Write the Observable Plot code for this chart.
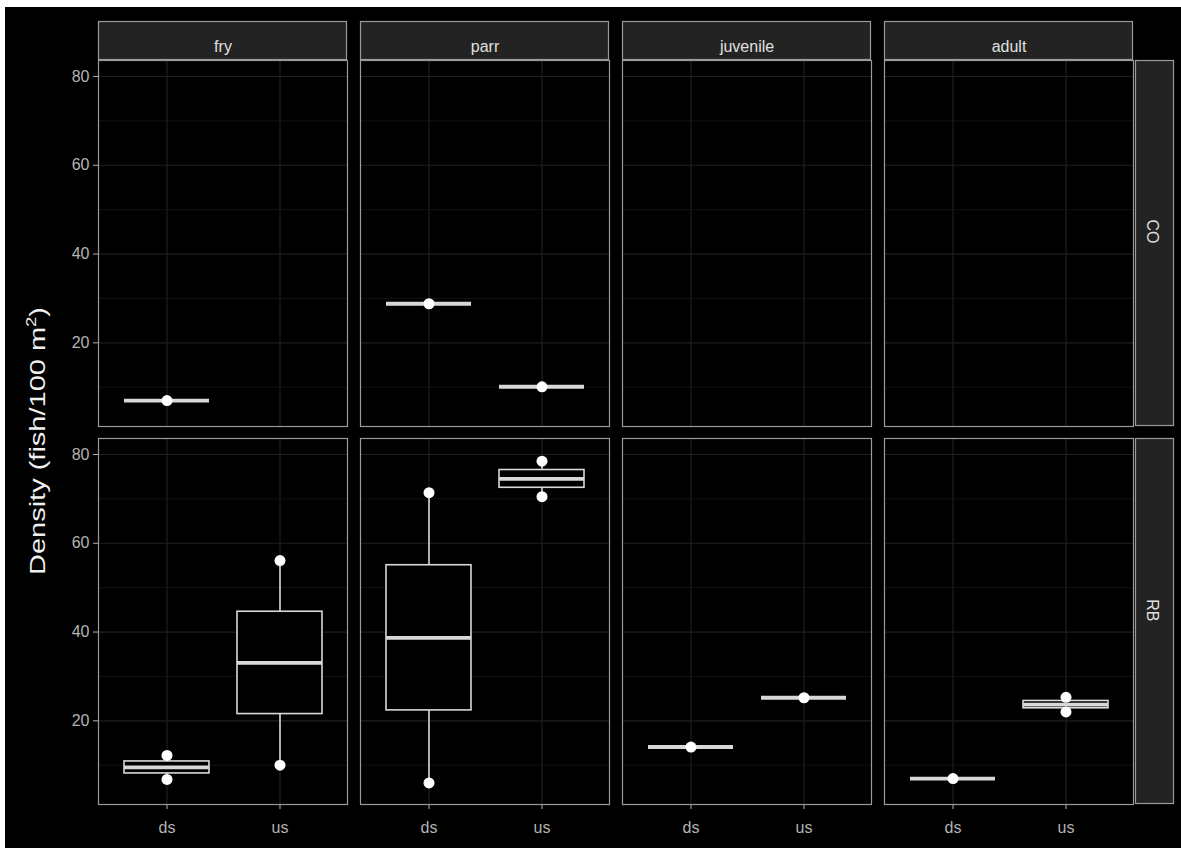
<!DOCTYPE html>
<html><head><meta charset="utf-8">
<script src="https://cdn.jsdelivr.net/npm/d3@7"></script>
<script src="https://cdn.jsdelivr.net/npm/@observablehq/plot@0.6"></script>
<style>
html,body{margin:0;padding:0;background:#fff;}
#wrap{position:absolute;left:5px;top:7px;width:1176px;height:841px;background:#000;overflow:hidden;}
</style></head><body><div id="wrap"></div>
<script>
// ---- data ----
const stages = ["fry", "parr", "juvenile", "adult"];
const speciesList = ["CO", "RB"];
const sites = ["ds", "us"];
const groupSpecies = ["CO", "CO", "CO", "RB", "RB", "RB", "RB", "RB", "RB", "RB", "RB"];
const groupStage   = ["fry", "parr", "parr", "fry", "fry", "parr", "parr", "juvenile", "juvenile", "adult", "adult"];
const groupSite    = ["ds", "ds", "us", "ds", "us", "ds", "us", "ds", "us", "ds", "us"];
const groupValues  = [[7.0], [28.8], [10.1], [6.8, 12.2], [10.0, 56.1], [6.0, 71.4], [70.5, 78.5], [14.1], [25.2], [7.0], [22.0, 25.3]];
const yMajor = [20, 40, 60, 80];
const yMinor = [10, 30, 50, 70];
const yDomain = [1.15, 83.6];
const yTitle = "Density (fish/100 m";
const yTitleSup = "2";

// ---- build tables ----
const obs = [];
groupValues.forEach((vals, i) => vals.forEach(v => obs.push({species: groupSpecies[i], stage: groupStage[i], site: groupSite[i], value: v})));
const panels = [];
speciesList.forEach(s => stages.forEach(st => panels.push({species: s, stage: st})));
// boxplot statistics (R type-7 quantiles, whiskers to the most extreme point within 1.5 IQR)
const stats = groupValues.map((vals, i) => {
  const s = vals.slice().sort(d3.ascending);
  const q1 = d3.quantile(s, 0.25), q3 = d3.quantile(s, 0.75), med = d3.quantile(s, 0.5);
  const iqr = q3 - q1;
  return {species: groupSpecies[i], stage: groupStage[i], site: groupSite[i], q1, q3, med,
    lo: d3.min(s.filter(v => v >= q1 - 1.5 * iqr)), hi: d3.max(s.filter(v => v <= q3 + 1.5 * iqr))};
});

const W = 1176, H = 841, ML = 92, MR = 46, MT = 53, MB = 44;
const boxColor = "#d8d8d8";
const borderColor = "#9a9a9a";
const facet = {fx: "stage", fy: "species"};

const plot = Plot.plot({
  width: W, height: H,
  marginLeft: ML, marginRight: MR, marginTop: MT, marginBottom: MB,
  style: {background: "#000", color: "#b3b3b3", fontSize: "16px", fontFamily: "'Liberation Sans', Arial, sans-serif"},
  fx: {domain: stages, axis: null, paddingInner: 13 / 262.75, paddingOuter: 0, label: null},
  fy: {domain: speciesList, axis: null, paddingInner: 12 / 378, paddingOuter: 0, label: null},
  x: {domain: sites, paddingInner: 0.25, paddingOuter: 0.225, tickSize: 5, tickPadding: 12, label: null},
  y: {domain: yDomain, ticks: yMajor, tickSize: 5, tickPadding: 4, label: null},
  marks: [
    Plot.text(panels, {...facet, text: () => ""}),
    Plot.ruleY(yMinor, {stroke: "#121212", strokeWidth: 1}),
    Plot.ruleY(yMajor, {stroke: "#1f1f1f", strokeWidth: 1.2}),
    Plot.ruleX(sites, {stroke: "#1f1f1f", strokeWidth: 1.2}),
    Plot.ruleX(stats, {...facet, x: "site", y1: "lo", y2: "hi", stroke: boxColor, strokeWidth: 1.6}),
    Plot.barY(stats, {...facet, x: "site", y1: "q1", y2: "q3", fill: "#000", stroke: boxColor, strokeWidth: 1.6}),
    Plot.tickY(stats, {...facet, x: "site", y: "med", stroke: boxColor, strokeWidth: 3.8}),
    Plot.dot(obs, {...facet, x: "site", y: "value", r: 5.5, fill: "#ffffff", stroke: null}),
    Plot.frame({stroke: borderColor, strokeWidth: 1.2}),
    Plot.text(panels.filter(d => d.species === speciesList[0]), {...facet, text: "stage", frameAnchor: "top", dy: -19.5, fill: "#e0e0e0", fontSize: 16}),
    Plot.text(panels.filter(d => d.stage === stages[stages.length - 1]), {...facet, text: "species", frameAnchor: "right", dx: 19, rotate: 90, fill: "#e0e0e0", fontSize: 16})
  ]
});

document.getElementById("wrap").appendChild(plot);

// ---- strips, positioned with the facet scales ----
let fxS, fyS;
try { fxS = plot.scale("fx"); fyS = plot.scale("fy"); } catch (e) {}
const fxBand = d3.scaleBand(stages, [ML, W - MR]).paddingInner(13 / 262.75).paddingOuter(0);
const fyBand = d3.scaleBand(speciesList, [MT, H - MB]).paddingInner(12 / 378).paddingOuter(0);
const fxPos = k => fxS && fxS.apply ? fxS.apply(k) : fxBand(k);
const fyPos = k => fyS && fyS.apply ? fyS.apply(k) : fyBand(k);
const fxBw = fxS && fxS.bandwidth ? fxS.bandwidth : fxBand.bandwidth();
const fyBw = fyS && fyS.bandwidth ? fyS.bandwidth : fyBand.bandwidth();

const svg = d3.select(plot);
const g = svg.insert("g", ":first-child").attr("class", "strips");
stages.forEach(k => g.append("rect").attr("x", fxPos(k) + 0.5).attr("y", MT - 38.5).attr("width", fxBw - 1).attr("height", 38)
  .attr("fill", "#232323").attr("stroke", borderColor).attr("stroke-width", 1.2));
speciesList.forEach(k => g.append("rect").attr("x", W - MR + 0.5).attr("y", fyPos(k) + 0.5).attr("width", 38).attr("height", fyBw - 1)
  .attr("fill", "#232323").attr("stroke", borderColor).attr("stroke-width", 1.2));

// y axis title
const t = svg.append("text").attr("transform", `translate(40,${(MT + H - MB) / 2 + 9}) rotate(-90)`)
  .attr("text-anchor", "middle").attr("fill", "#f0f0f0").attr("font-size", 22)
  .attr("textLength", 268).attr("lengthAdjust", "spacingAndGlyphs")
  .attr("font-family", "'Liberation Sans', Arial, sans-serif");
t.append("tspan").text(yTitle);
t.append("tspan").attr("font-size", 14).attr("dy", -9).text(yTitleSup);
t.append("tspan").attr("dy", 9).text(")");
</script></body></html>
